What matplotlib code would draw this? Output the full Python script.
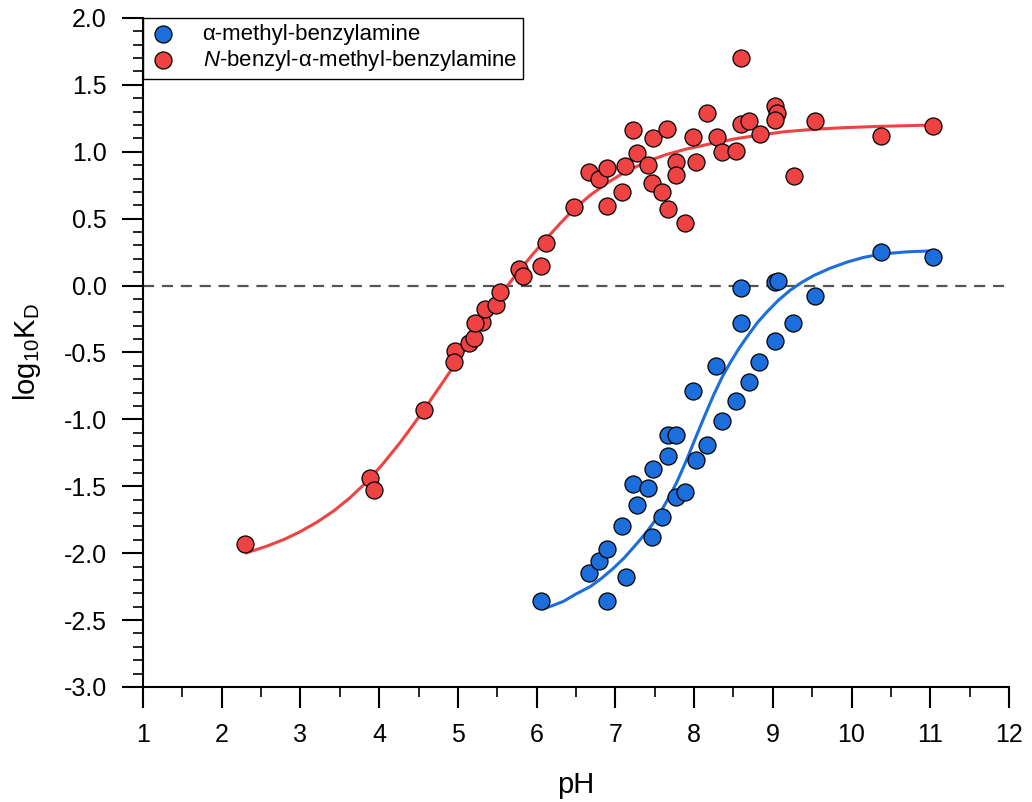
import matplotlib
matplotlib.use("Agg")
import matplotlib.pyplot as plt
from matplotlib.ticker import MultipleLocator, FormatStrFormatter

plt.rcParams['font.family'] = ['Liberation Sans', 'DejaVu Sans']
plt.rcParams['mathtext.fontset'] = 'custom'
plt.rcParams['mathtext.rm'] = 'Liberation Sans'
plt.rcParams['mathtext.it'] = 'Liberation Sans:italic'
plt.rcParams['mathtext.default'] = 'regular'

# ---- data ----
red_ph = [2.29, 3.88, 3.93, 4.57, 4.96, 4.95, 5.14, 5.20, 5.31, 5.22, 5.35, 5.48, 5.54,
          5.77, 5.83, 6.05, 6.12, 6.47, 6.90, 7.08, 6.67, 6.79, 6.90, 7.12, 7.27, 7.22,
          7.42, 7.48, 7.66, 7.46, 7.59, 7.67, 7.88, 7.77, 7.77, 8.03, 7.99, 8.16, 8.29,
          8.36, 8.53, 8.59, 8.59, 8.70, 8.84, 9.03, 9.05, 9.03, 9.27, 9.54, 10.37, 11.03]
red_log = [-1.93, -1.44, -1.53, -0.93, -0.49, -0.57, -0.43, -0.39, -0.27, -0.28, -0.175,
           -0.145, -0.05, 0.126, 0.074, 0.149, 0.32, 0.59, 0.595, 0.70, 0.847, 0.80, 0.88,
           0.89, 0.99, 1.16, 0.90, 1.105, 1.17, 0.765, 0.70, 0.57, 0.465, 0.92, 0.83, 0.92,
           1.11, 1.29, 1.11, 1.00, 1.006, 1.70, 1.21, 1.23, 1.13, 1.34, 1.29, 1.24, 0.82,
           1.23, 1.12, 1.19]

blue_ph = [6.05, 6.89, 6.66, 6.79, 6.90, 7.13, 7.09, 7.47, 7.27, 7.22, 7.42, 7.59, 7.48,
           7.67, 7.67, 7.77, 7.77, 7.88, 8.03, 8.16, 7.99, 8.36, 8.53, 8.28, 8.70, 8.83,
           8.59, 8.59, 9.03, 9.26, 9.03, 9.06, 9.54, 10.38, 11.04]
blue_log = [-2.36, -2.36, -2.15, -2.06, -1.97, -2.18, -1.80, -1.88, -1.64, -1.48, -1.51,
            -1.73, -1.37, -1.27, -1.12, -1.12, -1.58, -1.54, -1.30, -1.19, -0.79, -1.01,
            -0.86, -0.60, -0.72, -0.57, -0.28, -0.02, -0.414, -0.28, 0.029, 0.036, -0.075,
            0.25, 0.21]

# fitted curves
red_fit_ph = [2.30, 2.57, 2.80, 3.00, 3.21, 3.42, 3.63, 3.84, 4.05, 4.27, 4.42, 4.57,
              4.90, 5.11, 5.33, 5.54, 5.75, 5.96, 6.13, 6.30, 6.47, 6.68, 6.89, 7.07,
              7.27, 7.46, 7.65, 7.90, 8.25, 8.55, 8.84, 9.15, 9.52, 9.90, 10.37, 11.04]
red_fit_log = [-2.00, -1.948, -1.895, -1.838, -1.768, -1.685, -1.585, -1.468, -1.330,
               -1.170, -1.050, -0.927, -0.643, -0.457, -0.257, -0.070, 0.092, 0.241,
               0.355, 0.465, 0.570, 0.675, 0.765, 0.830, 0.890, 0.940, 0.980, 1.020,
               1.065, 1.100, 1.125, 1.150, 1.168, 1.180, 1.190, 1.200]

blue_fit_ph = [6.07, 6.20, 6.34, 6.50, 6.68, 6.83, 6.98, 7.12, 7.27, 7.40, 7.53, 7.65,
               7.78, 7.90, 8.01, 8.13, 8.25, 8.36, 8.46, 8.57, 8.67, 8.80, 8.92, 9.07,
               9.22, 9.37, 9.52, 9.73, 9.94, 10.15, 10.37, 10.70, 11.04]
blue_fit_log = [-2.42, -2.392, -2.36, -2.305, -2.25, -2.185, -2.11, -2.03, -1.93, -1.84,
                -1.735, -1.615, -1.47, -1.31, -1.15, -0.98, -0.815, -0.68, -0.575, -0.47,
                -0.385, -0.28, -0.20, -0.11, -0.035, 0.025, 0.075, 0.13, 0.175, 0.21,
                0.235, 0.252, 0.26]

labels = ['α-methyl-benzylamine', r'$\it{N}$-benzyl-α-methyl-benzylamine']

BLUE = '#1B6EDB'
RED = '#EF4343'

fig = plt.figure(figsize=(10.32, 8.02), dpi=100)
ax = fig.add_axes([0.1386, 0.1434, 0.8391, 0.8342])

ax.axhline(0, color='#555555', lw=1.6, ls=(0, (5, 3.5)), zorder=1)
ax.plot(red_fit_ph, red_fit_log, color=RED, lw=2.2, zorder=2, solid_capstyle='butt',
        solid_joinstyle='round')
ax.plot(blue_fit_ph, blue_fit_log, color=BLUE, lw=2.2, zorder=2, solid_capstyle='butt',
        solid_joinstyle='round')
ax.scatter(blue_ph, blue_log, s=150, color=BLUE, edgecolors='black', linewidths=0.9,
           zorder=3, label=labels[0])
ax.scatter(red_ph, red_log, s=150, color=RED, edgecolors='black', linewidths=0.9,
           zorder=3, label=labels[1])

ax.set_xlim(1, 12)
ax.set_ylim(-3.0, 2.0)
ax.xaxis.set_major_locator(MultipleLocator(1))
ax.xaxis.set_minor_locator(MultipleLocator(0.5))
ax.yaxis.set_major_locator(MultipleLocator(0.5))
ax.yaxis.set_minor_locator(MultipleLocator(0.1))
ax.yaxis.set_major_formatter(FormatStrFormatter('%.1f'))

for s in ['top', 'right']:
    ax.spines[s].set_visible(False)
for s in ['left', 'bottom']:
    ax.spines[s].set_linewidth(1.5)

ax.tick_params(which='major', direction='out', length=15, width=1.5, labelsize=18, pad=11)
ax.tick_params(which='minor', direction='out', length=7.5, width=1.2)

ax.set_xlabel('pH', fontsize=21, labelpad=17)
ax.set_ylabel('log$_{10}$K$_D$', fontsize=21, labelpad=15)

leg = ax.legend(loc='upper left', bbox_to_anchor=(0, 1), borderaxespad=0, fontsize=16,
                fancybox=False, framealpha=1, edgecolor='black', handletextpad=1.2,
                borderpad=0.28, labelspacing=0.12, handlelength=1.2, markerscale=1.0)
leg.get_frame().set_linewidth(1.0)

fig.savefig('out.png', dpi=100)
